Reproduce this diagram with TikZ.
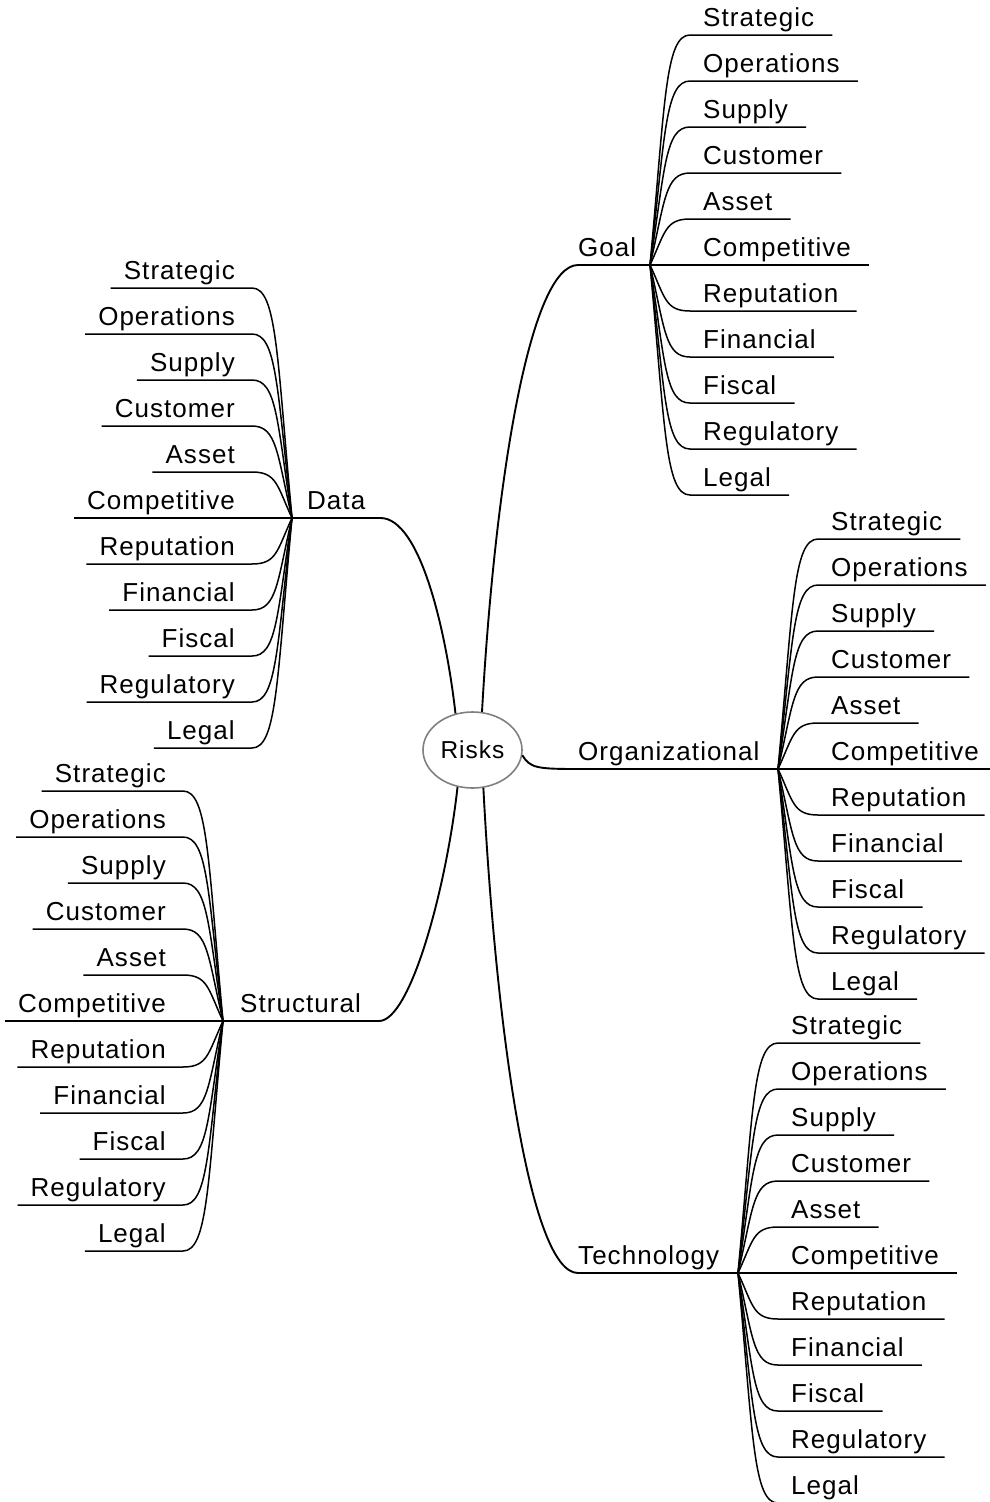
\documentclass[tikz,border=0pt]{standalone}
\usepackage{fontspec}
\setmainfont{Liberation Sans}[LetterSpace=4]
\usetikzlibrary{calc,shapes.geometric}

\tikzset{
  lbl/.style={inner sep=0pt, font=\fontsize{26}{30}\selectfont},
  kidline/.style={line width=1.5pt, black},
  branchline/.style={line width=1.9pt, black},
  hub/.style={ellipse, draw=black!50, line width=1.6pt, minimum width=99pt,
    minimum height=76pt, inner sep=0pt, font=\fontsize{24.5}{28}\selectfont},
}

% eleven risk categories hanging off a junction, fanning out to the right
\newcommand\RightKids[3]{% #1 prefix, #2 junction x, #3 junction y
  \coordinate (#1-j) at (#2,#3);
  \foreach \w [count=\i from 0] in {Strategic,Operations,Supply,Customer,Asset,Competitive,Reputation,Financial,Fiscal,Regulatory,Legal}{
    \pgfmathsetmacro\cy{#3+(\i-5)*46}
    \pgfmathsetmacro\ca{#3+(\i-5)*46*0.7}
    \coordinate (#1-s\i) at (#2+40,\cy);
    \node[lbl, anchor=base west] (#1-t\i) at (#2+53,\cy-9) {\w};
    \draw[kidline] (#1-j) .. controls (#2+15,\ca) and (#2+15,\cy) .. (#1-s\i)
      -- ($(#1-s\i -| #1-t\i.east)+(18,0)$);
  }
}
% the same, fanning out to the left
\newcommand\LeftKids[3]{%
  \coordinate (#1-j) at (#2,#3);
  \foreach \w [count=\i from 0] in {Strategic,Operations,Supply,Customer,Asset,Competitive,Reputation,Financial,Fiscal,Regulatory,Legal}{
    \pgfmathsetmacro\cy{#3+(\i-5)*46}
    \pgfmathsetmacro\ca{#3+(\i-5)*46*0.7}
    \coordinate (#1-s\i) at (#2-40,\cy);
    \node[lbl, anchor=base east] (#1-t\i) at (#2-57,\cy-9) {\w};
    \draw[kidline] (#1-j) .. controls (#2-15,\ca) and (#2-15,\cy) .. (#1-s\i)
      -- ($(#1-s\i -| #1-t\i.west)+(-13,0)$);
  }
}

\begin{document}
\begin{tikzpicture}[x=1pt,y=-1pt]
\useasboundingbox (0,0) rectangle (990,1502);

% central topic
\node[hub] (risks) at (472.5,750) {Risks};

% main branches
\node[lbl, anchor=base west] (goal) at (578,256) {Goal};
\node[lbl, anchor=base west] (org) at (578,760) {Organizational};
\node[lbl, anchor=base west] (tech) at (578,1264) {Technology};
\node[lbl, anchor=base west] (data) at (307,509) {Data};
\node[lbl, anchor=base west] (struct) at (240,1012) {Structural};

\RightKids{g}{650}{265}
\RightKids{o}{778}{769}
\RightKids{t}{738}{1273}
\LeftKids{d}{292}{518}
\LeftKids{s}{223}{1021}

% where the left-hand branch lines start to bend towards the hub
\coordinate (d-e) at ($(d-j -| data.east)+(15,0)$);
\coordinate (s-e) at ($(s-j -| struct.east)+(18,0)$);

\draw[branchline] (risks.76) .. controls (495,480) and (530,265) .. (g-j -| goal.west) -- (g-j);
\draw[branchline] (risks.-6) .. controls (530,768) and (537,769) .. (o-j -| org.west) -- (o-j);
\draw[branchline] (risks.-74) .. controls (496,1030) and (530,1273) .. (t-j -| tech.west) -- (t-j);
\draw[branchline] (risks.115) .. controls (446,630) and (420,518) .. (d-e) -- (d-j);
\draw[branchline] (risks.-112) .. controls (446,890) and (410,1021) .. (s-e) -- (s-j);
\end{tikzpicture}
\end{document}
